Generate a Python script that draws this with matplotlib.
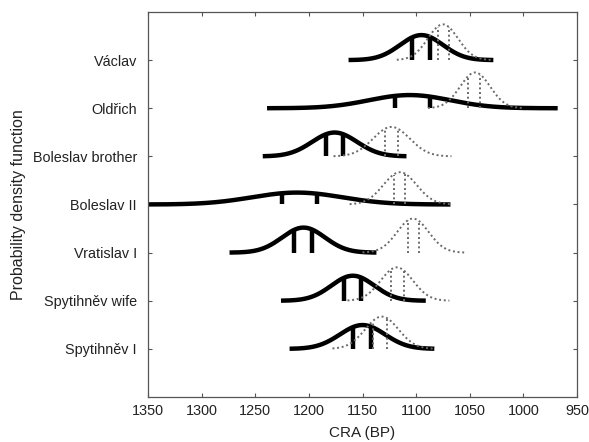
import numpy as np
import matplotlib
matplotlib.use("Agg")
import matplotlib.pyplot as plt

plt.rcParams['font.family'] = ['Liberation Sans', 'DejaVu Sans']

names = ['Spytihněv I', 'Spytihněv wife', 'Vratislav I', 'Boleslav II',
         'Boleslav brother', 'Oldřich', 'Václav']

# solid (black) distributions: mean, sigma, range, marker lines
blk_mean = [1150, 1159, 1205, 1211, 1176, 1106, 1095]
blk_sd = [21, 20, 20, 42, 21, 38, 20]
blk_lo = [1218, 1226, 1274, 1360, 1243, 1239, 1163]
blk_hi = [1083, 1091, 1137, 1068, 1109, 968, 1028]
blk_marks = [(1159, 1142), (1167, 1151), (1214, 1197), (1225, 1192),
             (1184, 1168), (1120, 1087), (1104, 1087)]

# dotted (grey) distributions
dot_mean = [1132, 1118, 1103, 1115, 1123, 1045, 1075]
dot_sd = [15.5, 15, 14.7, 15.5, 17, 14, 14]
dot_lo = [1178, 1164, 1150, 1162, 1177, 1089, 1118]
dot_hi = [1083, 1069, 1054, 1068, 1067, 1001, 1028]
dot_marks = [(1140, 1127), (1123, 1111), (1108, 1097), (1121, 1110),
             (1129, 1117), (1052, 1040), (1080, 1069)]

K = 10.4  # area scaling in axis units


def curve(x, m, s):
    return K / s * np.exp(-0.5 * ((x - m) / s) ** 2)


fig = plt.figure(figsize=(5.89, 4.42), dpi=100)
ax = fig.add_axes([0.2513, 0.1018, 0.7283, 0.8711])

for i, name in enumerate(names):
    base = i + 1
    x = np.linspace(blk_lo[i], blk_hi[i], 400)
    ax.plot(x, base + curve(x, blk_mean[i], blk_sd[i]),
            color='black', lw=3.2, solid_capstyle='butt', zorder=2)
    for xm in blk_marks[i]:
        ax.vlines(xm, base, base + curve(xm, blk_mean[i], blk_sd[i]),
                  color='black', lw=3.2, zorder=2)

for i, name in enumerate(names):
    base = i + 1
    x = np.linspace(dot_lo[i], dot_hi[i], 400)
    ax.plot(x, base + curve(x, dot_mean[i], dot_sd[i]),
            color='#6a6a6a', lw=1.4, ls=(0, (1, 1.4)), zorder=3)
    for xm in dot_marks[i]:
        ax.vlines(xm, base, base + curve(xm, dot_mean[i], dot_sd[i]),
                  color='#6a6a6a', lw=1.4, ls=(0, (1, 1.4)), zorder=3)

ax.set_xlim(1350, 950)
ax.set_ylim(0, 8)
ax.set_xticks(np.arange(1350, 949, -50))
ax.set_yticks(range(1, 8))
ax.set_yticklabels(names)
ax.tick_params(direction='in', length=3, width=0.8, top=True, right=True,
               labelsize=10.4, labelcolor='#222222', color='#555555')
ax.tick_params(axis='y', pad=8)
ax.tick_params(axis='x', pad=5)
for sp in ax.spines.values():
    sp.set_color('#555555')
    sp.set_linewidth(0.9)
ax.set_xlabel('CRA (BP)', fontsize=11, labelpad=6, color='#222222')
ax.set_ylabel('Probability density function', fontsize=11.5, labelpad=5,
              color='#222222')

fig.savefig('out.png', dpi=100)
